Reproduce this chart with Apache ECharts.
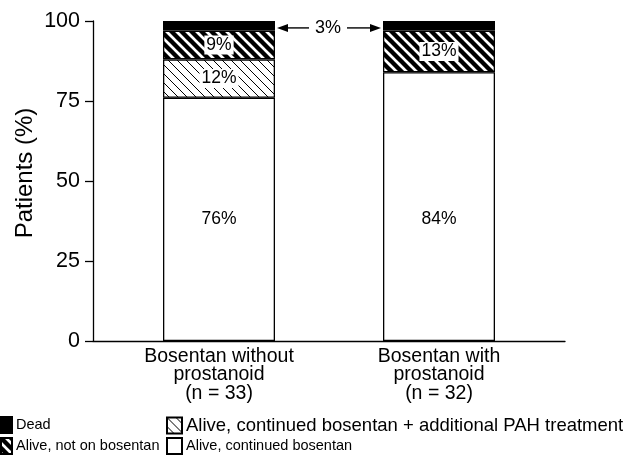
<!DOCTYPE html>
<html><head><meta charset="utf-8">
<script src="https://cdn.jsdelivr.net/npm/echarts@6/dist/echarts.min.js"></script>
<style>html,body{margin:0;padding:0;background:#fff}#c{width:628px;height:457px}</style>
</head><body><div id="c"></div>
<script>
const categories = ['Bosentan without\nprostanoid\n(n = 33)', 'Bosentan with\nprostanoid\n(n = 32)'];
const aliveContinued = [76, 84];
const aliveAdditional = [12, 0];
const aliveNotOn = [9, 13];
const dead = [3, 3];
const yTicks = [0, 25, 50, 75, 100];
const seriesNames = ['Dead', 'Alive, not on bosentan', 'Alive, continued bosentan + additional PAH treatment', 'Alive, continued bosentan'];

function stripe(bg, fg, lw, p) {
  const c = document.createElement('canvas'); c.width = p; c.height = p;
  const ctx = c.getContext('2d');
  ctx.fillStyle = bg; ctx.fillRect(0, 0, p, p);
  ctx.strokeStyle = fg; ctx.lineWidth = lw;
  for (const k of [-p, 0, p]) {
    ctx.beginPath(); ctx.moveTo(k - 2, -2); ctx.lineTo(k + p + 2, p + 2); ctx.stroke();
  }
  return c;
}
const heavy = {image: stripe('#fff', '#000', 4.4, 10), repeat: 'repeat'};
const light = {image: stripe('#fff', '#000', 1, 9), repeat: 'repeat'};
const FONT = '"Liberation Sans", Arial, sans-serif';
const chart = echarts.init(document.getElementById('c'));
const labBase = {show: true, position: 'inside', color: '#000', fontSize: 17.5, fontFamily: FONT,
  formatter: p => p.value + '%'};
const labBox = Object.assign({}, labBase, {backgroundColor: '#fff', padding: [1, 2, 0, 2]});

function legendItem(name, left, top, fontSize, w) {
  return {left: left, top: top, padding: 0, itemGap: 0, itemWidth: w, itemHeight: 16, icon: 'rect',
    selectedMode: false,
    textStyle: {color: '#000', fontSize: fontSize, fontFamily: FONT, padding: [1, 0, 0, -1]},
    data: [name]};
}

chart.setOption({
  animation: false,
  grid: [
    {left: 109, right: 79, top: 21, bottom: 116},
    {left: 93, right: 63, top: 21, bottom: 116}
  ],
  xAxis: [
    {type: 'category', gridIndex: 0, data: categories, axisLine: {show: false}, axisTick: {show: false},
     axisLabel: {color: '#000', fontSize: 19.5, lineHeight: 18.5, fontFamily: FONT, margin: 6}},
    {type: 'value', gridIndex: 1, min: 0, max: 1, axisLine: {show: true, lineStyle: {color: '#000', width: 1.3}},
     axisTick: {show: false}, axisLabel: {show: false}, splitLine: {show: false}}
  ],
  yAxis: [
    {type: 'value', gridIndex: 0, min: 0, max: 100, show: false},
    {type: 'value', gridIndex: 1, min: yTicks[0], max: yTicks[yTicks.length - 1], interval: 25,
     name: 'Patients (%)', nameLocation: 'middle', nameGap: 56, nameRotate: 90, nameMoveOverlap: false,
     nameTextStyle: {color: '#000', fontSize: 24, fontFamily: FONT, padding: [0, 0, 0, 16]},
     axisLine: {show: true, lineStyle: {color: '#000', width: 1.3}},
     axisTick: {show: true, length: 8, lineStyle: {color: '#000', width: 1.3}},
     axisLabel: {color: '#000', fontSize: 21.5, fontFamily: FONT, margin: 13},
     splitLine: {show: false}}
  ],
  legend: [
    legendItem(seriesNames[0], 0, 416, 14.5, 11),
    legendItem(seriesNames[1], 0, 437, 14.5, 11),
    legendItem(seriesNames[2], 166, 416, 18.5, 15),
    legendItem(seriesNames[3], 166, 437, 14.5, 15)
  ],
  series: [
    {name: seriesNames[3], type: 'bar', stack: 's', data: aliveContinued, barWidth: 112,
     itemStyle: {color: '#fff', borderColor: '#000', borderWidth: 1.3},
     label: labBase,
     labelLayout: p => ({
       x: p.rect.x + p.rect.width / 2,
       y: chart.convertToPixel({gridIndex: 0}, [0, 38])[1],
       align: 'center', verticalAlign: 'middle'})},
    {name: seriesNames[2], type: 'bar', stack: 's', data: aliveAdditional.map(v => v || '-'),
     itemStyle: {color: light, borderColor: '#000', borderWidth: 1.3}, label: labBox},
    {name: seriesNames[1], type: 'bar', stack: 's', data: aliveNotOn,
     itemStyle: {color: heavy, borderColor: '#000', borderWidth: 1.3}, label: labBox},
    {name: seriesNames[0], type: 'bar', stack: 's', data: dead,
     itemStyle: {color: '#000', borderColor: '#000', borderWidth: 1.3}}
  ]
});

// 3% annotation arrows between the bars
const yMid = chart.convertToPixel({gridIndex: 0}, [0, 100 - dead[0] * 0.72])[1];
const x1 = chart.convertToPixel({gridIndex: 0}, [0, 0])[0] + 56 + 2;
const x2 = chart.convertToPixel({gridIndex: 0}, [1, 0])[0] - 56 - 2;
const xm = (x1 + x2) / 2;
function arrow(xs, xe) {
  const dir = Math.sign(xe - xs);
  return [
    {type: 'line', shape: {x1: xs, y1: yMid, x2: xe - dir * 4, y2: yMid}, style: {stroke: '#000', lineWidth: 1.4}},
    {type: 'polygon', shape: {points: [[xe, yMid], [xe - dir * 11, yMid - 4], [xe - dir * 11, yMid + 4]]}, style: {fill: '#000'}}
  ];
}
chart.setOption({graphic: [
  ...arrow(xm - 20, x1), ...arrow(xm + 18, x2),
  {type: 'text', x: xm - 1, y: yMid, style: {text: dead[0] + '%', fill: '#000', fontSize: 18, fontFamily: FONT, align: 'center', verticalAlign: 'middle'}}
]});
</script></body></html>
